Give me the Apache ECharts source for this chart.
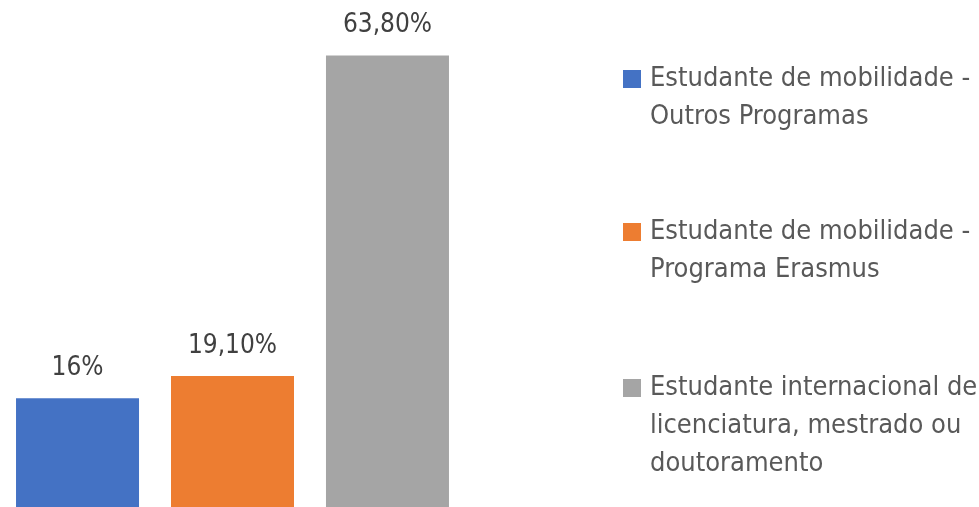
<!DOCTYPE html>
<html>
<head>
<meta charset="utf-8">
<script src="https://cdn.jsdelivr.net/npm/echarts@6/dist/echarts.min.js"></script>
<style>
  html, body { margin: 0; padding: 0; background: #fff; }
  #chart { width: 979px; height: 507px; }
</style>
</head>
<body>
<div id="chart"></div>
<script>
// values
const seriesNames = [
  'Estudante de mobilidade -\nOutros Programas',
  'Estudante de mobilidade -\nPrograma Erasmus',
  'Estudante internacional de\nlicenciatura, mestrado ou\ndoutoramento'
];
const seriesValues = [16, 19.1, 63.8];
const valueLabels = ['16%', '19,10%', '63,80%'];
const seriesColors = ['#4472C4', '#ED7D31', '#A5A5A5'];

const font = "'DejaVu Sans Condensed', sans-serif";
const lineH = 38;
const legendTops = [60, 213, 369];

// square on top, empty point below, so the square sits next to the first line
function iconFor(lines) {
  const h = lines * lineH - 20;
  return { icon: 'path://M0,0h18v18h-18z M0,' + h + 'h18', h: h };
}

const chart = echarts.init(document.getElementById('chart'));

chart.setOption({
  animation: false,
  // bars run a few px past the bottom edge, like the cropped original
  grid: { left: 0, width: 465, top: 11, height: 502, outerBoundsMode: 'none' },
  xAxis: {
    type: 'category',
    data: [''],
    axisLine: { show: false },
    axisTick: { show: false },
    axisLabel: { show: false }
  },
  yAxis: {
    type: 'value',
    min: 0,
    max: 70,
    show: false,
    splitLine: { show: false }
  },
  legend: seriesNames.map((name, i) => {
    const ic = iconFor(name.split('\n').length);
    return {
      left: 623,
      top: legendTops[i],
      padding: 0,
      orient: 'vertical',
      itemWidth: 18,
      itemHeight: ic.h,
      icon: ic.icon,
      data: [name],
      selectedMode: false,
      textStyle: {
        fontFamily: font,
        fontSize: 27,
        lineHeight: lineH,
        color: '#595959',
        padding: [0, 0, 0, 4]
      }
    };
  }),
  series: seriesNames.map((name, i) => ({
    name: name,
    type: 'bar',
    barWidth: 123,
    barGap: '26%',
    itemStyle: { color: seriesColors[i] },
    data: [seriesValues[i]],
    label: {
      show: true,
      position: 'top',
      distance: 17,
      formatter: () => valueLabels[i],
      fontFamily: font,
      fontSize: 26,
      color: '#404040'
    }
  }))
});
</script>
</body>
</html>
